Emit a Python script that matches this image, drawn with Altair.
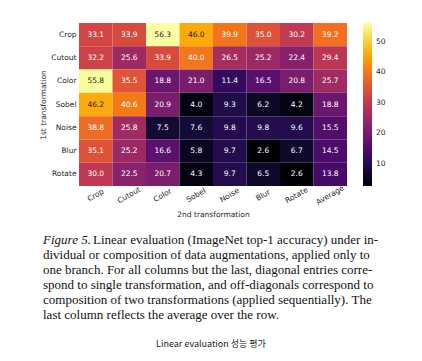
import altair as alt
import pandas as pd

rows = ["Crop", "Cutout", "Color", "Sobel", "Noise", "Blur", "Rotate"]
cols = ["Crop", "Cutout", "Color", "Sobel", "Noise", "Blur", "Rotate", "Average"]
vals_crop = [33.1, 33.9, 56.3, 46.0, 39.9, 35.0, 30.2, 39.2]
vals_cutout = [32.2, 25.6, 33.9, 40.0, 26.5, 25.2, 22.4, 29.4]
vals_color = [55.8, 35.5, 18.8, 21.0, 11.4, 16.5, 20.8, 25.7]
vals_sobel = [46.2, 40.6, 20.9, 4.0, 9.3, 6.2, 4.2, 18.8]
vals_noise = [38.8, 25.8, 7.5, 7.6, 9.8, 9.8, 9.6, 15.5]
vals_blur = [35.1, 25.2, 16.6, 5.8, 9.7, 2.6, 6.7, 14.5]
vals_rotate = [30.0, 22.5, 20.7, 4.3, 9.7, 6.5, 2.6, 13.8]
matrix = [vals_crop, vals_cutout, vals_color, vals_sobel, vals_noise, vals_blur, vals_rotate]
cbar_ticks = [10, 20, 30, 40, 50]

caption_lines = [
    "dividual or composition of data augmentations, applied only to",
    "one branch.  For all columns but the last, diagonal entries corre-",
    "spond to single transformation, and off-diagonals correspond to",
    "composition of two transformations (applied sequentially).  The",
    "last column reflects the average over the row.",
]
caption_first_italic = "Figure 5."
caption_first_rest = "Linear evaluation (ImageNet top-1 accuracy) under in-"
bottom_title = "Linear evaluation 성능 평가"

records = []
for r, rv in zip(rows, matrix):
    for c, v in zip(cols, rv):
        records.append({"first": r, "second": c, "acc": v})
df = pd.DataFrame(records)

W, H = 268, 163
vmin = min(min(r) for r in matrix)
vmax = max(max(r) for r in matrix)

base = alt.Chart(df)
heat = base.mark_rect().encode(
    x=alt.X("second:N", sort=cols, title="2nd transformation",
            axis=alt.Axis(labelAngle=-30, labelAlign="center", labelBaseline="middle",
                          labelPadding=9, ticks=False, domain=False, titlePadding=5)),
    y=alt.Y("first:N", sort=rows, title="1st transformation",
            axis=alt.Axis(ticks=False, domain=False, labelPadding=3, titlePadding=3)),
    color=alt.Color("acc:Q",
                    scale=alt.Scale(scheme="inferno", domain=[vmin, vmax]),
                    legend=alt.Legend(orient="none", legendX=284, legendY=0,
                                      direction="vertical", gradientLength=H,
                                      gradientThickness=9, title=None,
                                      values=cbar_ticks, labelFontSize=7.5,
                                      labelOffset=4, labelFont="DejaVu Sans",
                                      labelColor="#262626", gradientStrokeWidth=0)),
)
labels = base.mark_text(font="DejaVu Sans", fontSize=7.5).encode(
    x=alt.X("second:N", sort=cols),
    y=alt.Y("first:N", sort=rows),
    text=alt.Text("acc:Q", format=".1f"),
    color=alt.condition("datum.acc > 43", alt.value("#262626"), alt.value("#ffffff")),
)

FS = 13
LINE0 = 217
STEP = 15
cap_layers = [
    alt.Chart(pd.DataFrame({"t": [caption_first_italic]})).mark_text(
        font="Liberation Serif", fontSize=FS, fontStyle="italic", align="left",
        baseline="middle", color="#111111").encode(
        text="t:N", x=alt.value(-36), y=alt.value(LINE0)),
    alt.Chart(pd.DataFrame({"t": [caption_first_rest]})).mark_text(
        font="Liberation Serif", fontSize=FS, align="left", baseline="middle",
        color="#111111").encode(text="t:N", x=alt.value(14), y=alt.value(LINE0)),
]
for i, line in enumerate(caption_lines, start=1):
    cap_layers.append(
        alt.Chart(pd.DataFrame({"t": [line]})).mark_text(
            font="Liberation Serif", fontSize=FS, align="left", baseline="middle",
            color="#111111").encode(text="t:N", x=alt.value(-36),
                                    y=alt.value(LINE0 + STEP * i))
    )
bottom = alt.Chart(pd.DataFrame({"t": [bottom_title]})).mark_text(
    font="Noto Sans CJK KR", fontSize=9, align="center", baseline="middle",
    color="#222222").encode(text="t:N", x=alt.value(132), y=alt.value(321))

chart = alt.layer(heat, labels, *cap_layers, bottom).properties(
    width=W, height=H,
    padding={"left": 71, "top": 15, "right": 66, "bottom": 166},
    autosize=alt.AutoSizeParams(type="none"),
    background="white",
).configure_view(stroke=None).configure_axis(
    labelFont="DejaVu Sans", labelFontSize=7.5, labelColor="#262626",
    titleFont="DejaVu Sans", titleFontSize=7.5, titleColor="#262626", titleFontWeight="normal",
)

chart.save("out.html", embed_options={"renderer": "svg", "actions": False})
